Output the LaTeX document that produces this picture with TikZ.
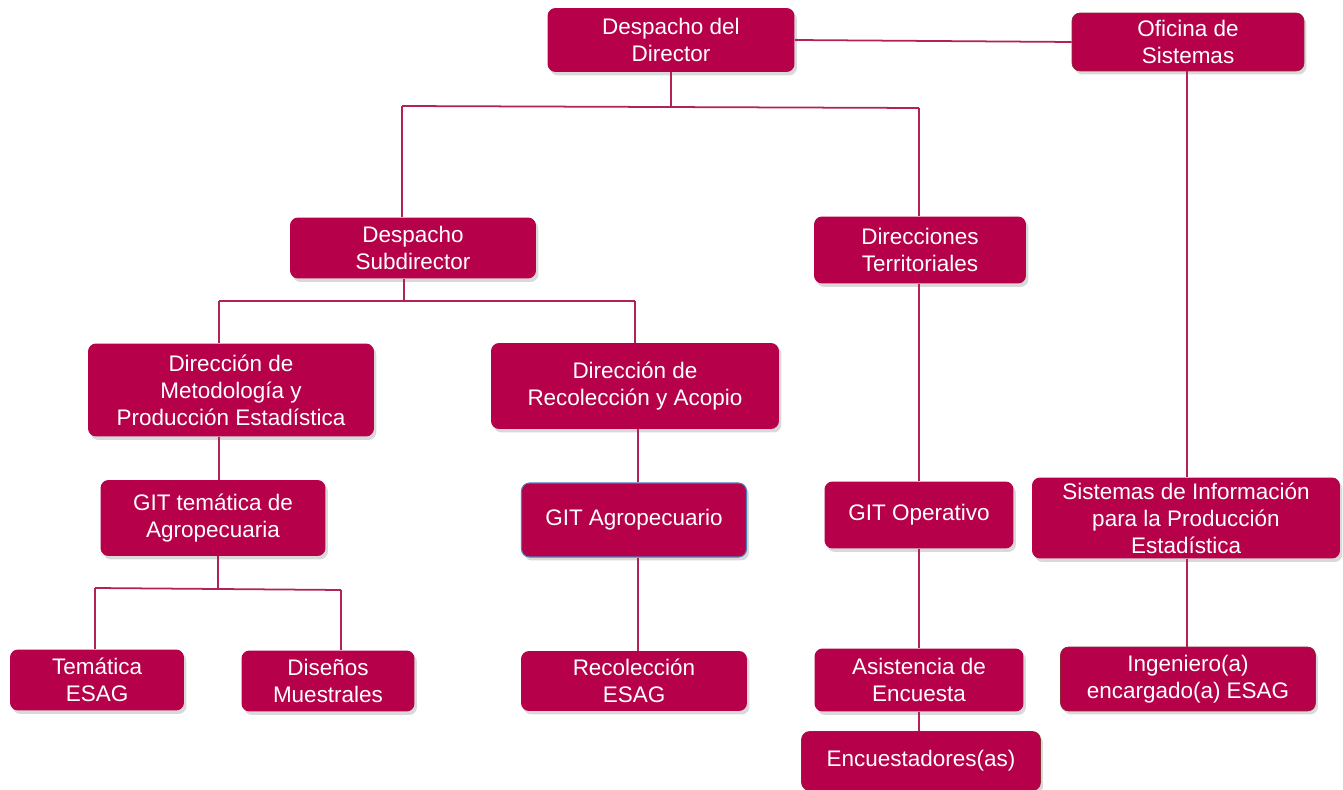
\documentclass[tikz,border=0pt]{standalone}
\usepackage{fontspec}
\setmainfont{Liberation Sans}
\usetikzlibrary{shadows}

\definecolor{boxred}{RGB}{183,0,74}
\definecolor{linkred}{RGB}{178,34,88}
\definecolor{rimbrown}{RGB}{140,40,50}
\definecolor{rimblue}{RGB}{74,126,187}

\begin{document}
\begin{tikzpicture}[
    x=0.02cm, y=-0.02cm,
    font=\fontsize{12.8}{15.4}\selectfont,
    unit/.style={
        fill=boxred,
        text=white,
        rounded corners=0.16cm,
        align=center,
        inner sep=0pt,
        drop shadow={shadow xshift=0.05cm, shadow yshift=-0.07cm, opacity=0.3}
    },
    rimmed/.style={draw=rimbrown, line width=0.4pt},
    link/.style={
        draw=linkred,
        line width=1pt
    }
]
\useasboundingbox (0,0) rectangle (1343,790);

% Top level
\node[unit, minimum width=4.94cm, minimum height=1.28cm] (dir) at (671,40) {Despacho del\\Director};
\node[unit, rimmed, minimum width=4.64cm, minimum height=1.16cm] (ofi) at (1188,42) {Oficina de\\Sistemas};

% Second level
\node[unit, minimum width=4.92cm, minimum height=1.22cm] (sub) at (413,248) {Despacho\\Subdirector};
\node[unit, minimum width=4.24cm, minimum height=1.34cm] (terr) at (920,250) {Direcciones\\Territoriales};

% Third level
\node[unit, minimum width=5.72cm, minimum height=1.86cm] (meto) at (231,390) {Dirección de\\Metodología y\\Producción Estadística};
\node[unit, minimum width=5.76cm, minimum height=1.72cm] (reco) at (635,386) {Dirección de\\Recolección y Acopio};

% GIT level
\node[unit, minimum width=4.5cm, minimum height=1.52cm] (gitem) at (213,518) {GIT temática de\\Agropecuaria};
\node[unit, draw=rimblue, line width=0.6pt, minimum width=4.5cm, minimum height=1.48cm] (gitagro) at (634,520) {GIT Agropecuario};
\node[unit, minimum width=3.78cm, minimum height=1.34cm] (gitop) at (919,515) {GIT Operativo};
\node[unit, minimum width=6.16cm, minimum height=1.62cm] (sinfo) at (1186,518) {Sistemas de Información\\para la Producción\\Estadística};

% Bottom level
\node[unit, minimum width=3.48cm, minimum height=1.22cm] (tema) at (97,680) {Temática\\ESAG};
\node[unit, minimum width=3.46cm, minimum height=1.22cm] (dise) at (328,681) {Diseños\\Muestrales};
\node[unit, minimum width=4.52cm, minimum height=1.2cm] (resag) at (634,681) {Recolección\\ESAG};
\node[unit, minimum width=4.18cm, minimum height=1.26cm] (asis) at (919,680) {Asistencia de\\Encuesta};
\node[unit, rimmed, minimum width=4.78cm, minimum height=1.18cm] (encu) at (921,761) {Encuestadores(as)};
\node[unit, rimmed, minimum width=5.1cm, minimum height=1.28cm] (inge) at (1188,679) {Ingeniero(a)\\encargado(a) ESAG};

% Junctions
\coordinate (j1) at (671,107);
\coordinate (j1l) at (402,106);
\coordinate (j1r) at (919,108);
\coordinate (j2) at (404,301);
\coordinate (j2l) at (219,301);
\coordinate (j2r) at (635,301);
\coordinate (j3) at (218,588);
\coordinate (j3l) at (95,588);
\coordinate (j3r) at (341,590);
\coordinate (vagro) at (638,0);
\coordinate (vsis) at (1187,0);

% Connectors
\draw[link] (dir.east) -- (ofi.west);
\draw[link] (dir.south) -- (j1);
\draw[link] (j1l) -- (j1r);
\draw[link] (j1l) -- (j1l |- sub.north);
\draw[link] (j1r) -- (j1r |- terr.north);

\draw[link] (j2 |- sub.south) -- (j2);
\draw[link] (j2l) -- (j2r);
\draw[link] (j2l) -- (j2l |- meto.north);
\draw[link] (j2r) -- (j2r |- reco.north);

\draw[link] (j2l |- meto.south) -- (j2l |- gitem.north);
\draw[link] (vagro |- reco.south) -- (vagro |- gitagro.north);
\draw[link] (vagro |- gitagro.south) -- (vagro |- resag.north);

\draw[link] (j3 |- gitem.south) -- (j3);
\draw[link] (j3l) -- (j3r);
\draw[link] (j3l) -- (j3l |- tema.north);
\draw[link] (j3r) -- (j3r |- dise.north);

\draw[link] (terr.south -| gitop.north) -- (gitop.north);
\draw[link] (gitop.south) -- (asis.north);
\draw[link] (asis.south) -- (asis.south |- encu.north);

\draw[link] (vsis |- ofi.south) -- (vsis |- sinfo.north);
\draw[link] (vsis |- sinfo.south) -- (vsis |- inge.north);

\end{tikzpicture}
\end{document}
